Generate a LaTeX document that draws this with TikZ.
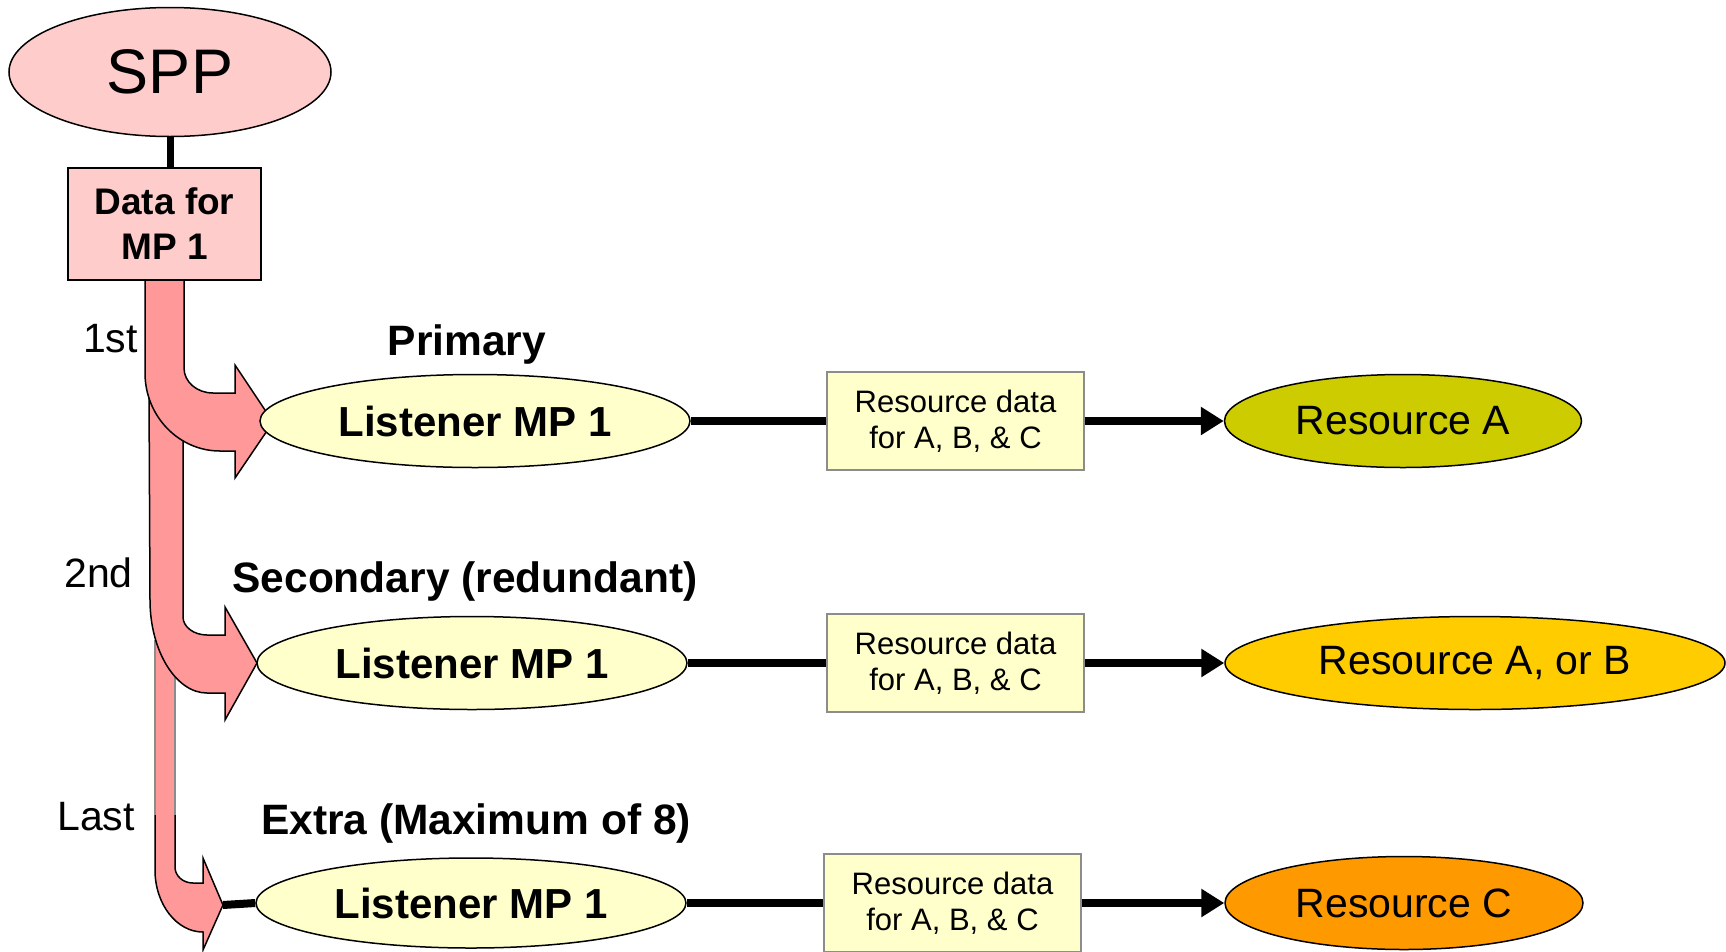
\documentclass[tikz,border=0pt]{standalone}
\usepackage{fontspec}
\setmainfont{Liberation Sans}
\usetikzlibrary{shapes.geometric,arrows.meta}
\definecolor{sppfill}{HTML}{FFCCCC}
\definecolor{arrowfill}{HTML}{FF9999}
\definecolor{lightyellow}{HTML}{FFFFCC}
\definecolor{resA}{HTML}{CCCC00}
\definecolor{resB}{HTML}{FFCC00}
\definecolor{resC}{HTML}{FF9900}
\definecolor{boxgray}{HTML}{8C8C8C}
\begin{document}
\begin{tikzpicture}[x=1pt,y=-1pt,
  oval/.style={ellipse, draw=black, line width=1.5pt, inner sep=0pt, minimum height=93pt},
  listener/.style={oval, fill=lightyellow, minimum width=430pt, font=\fontsize{42}{48}\selectfont\bfseries},
  resnode/.style={oval, font=\fontsize{41}{48}\selectfont},
  databox/.style={rectangle, draw=boxgray, line width=1.8pt, fill=lightyellow, minimum width=257pt, minimum height=98pt, inner sep=0pt, align=center, font=\fontsize{31}{36}\selectfont},
  conn/.style={line width=8pt},
  arrowconn/.style={line width=8pt, -{Triangle[length=23pt,width=27pt]}},
  bentarrow/.style={fill=arrowfill, draw=black, line width=1.5pt, line join=miter},
  rowlabel/.style={anchor=base, inner sep=0pt, font=\fontsize{42.5}{48}\selectfont\bfseries},
  ordlabel/.style={anchor=base east, inner sep=0pt, font=\fontsize{41}{48}\selectfont}
]
\useasboundingbox (0,0) rectangle (1726,951);

% bent arrows (drawn from the last to the first)
\fill[arrowfill] (155,640) -- (175,640) -- (175,867) .. controls (175,876) and (183,883) .. (193,883) -- (203,883) -- (203,858) -- (223,905) -- (203,950) -- (203,932) .. controls (176.5,932) and (155,904) .. (155,870) -- cycle;
\draw[black, line width=1.5pt, line join=miter] (175,815) -- (175,867) .. controls (175,876) and (183,883) .. (193,883) -- (203,883) -- (203,858) -- (223,905) -- (203,950) -- (203,932) .. controls (176.5,932) and (155,904) .. (155,870) -- (155,815);
\draw[boxgray, line width=1.8pt] (155,640) -- (155,815) (175,640) -- (175,815);
\coordinate (tip3) at (223,905);

\draw[bentarrow] (149,390) -- (183,390) -- (183,617) .. controls (183,627) and (194,635) .. (207,635) -- (225,635) -- (225,607) -- (257,663) -- (225,720) -- (225,693) -- (207,693) .. controls (176,693) and (150,651) .. (150,600) -- cycle;

\draw[bentarrow] (145,280) -- (184,280) -- (184,368) .. controls (184,382) and (197,393) .. (213,393) -- (235,393) -- (235,365) -- (273,422) -- (235,478) -- (235,451) -- (220,451) .. controls (178.6,451) and (145,416) .. (145,373) -- cycle;

% SPP and its data
\node[oval, fill=sppfill, minimum width=322pt, minimum height=129pt, font=\fontsize{63}{70}\selectfont] (spp) at (170,72) {SPP};
\node[rectangle, draw=black, line width=1.5pt, fill=sppfill, minimum width=193pt, minimum height=112pt, inner sep=0pt, align=center, font=\fontsize{37}{45}\selectfont\bfseries] (data) at (164.5,224) {Data for\\MP 1};
\draw[line width=7pt] (spp.south) -- (spp.south |- data.north);

% ordinal labels
\node[ordlabel] (l1st) at (138,352) {1st};
\node[ordlabel] (l2nd) at (133,587) {2nd};
\node[ordlabel] (llast) at (135,830) {Last};

% row labels
\node[rowlabel] (prim) at (467,355) {Primary};
\node[rowlabel] (sec) at (465,592) {Secondary (redundant)};
\node[rowlabel] (extra) at (476,834) {Extra (Maximum of 8)};

% rows
\node[listener] (lis1) at (475,421) {Listener MP 1};
\node[listener] (lis2) at (472,663) {Listener MP 1};
\node[listener, minimum height=90pt] (lis3) at (471,903) {Listener MP 1};

\node[databox] (rd1) at (955.5,421) {Resource data\\for A, B, \& C};
\node[databox] (rd2) at (955.5,663) {Resource data\\for A, B, \& C};
\node[databox] (rd3) at (952.5,903) {Resource data\\for A, B, \& C};

\node[resnode, fill=resA, minimum width=357pt] (ra) at (1403,421) {Resource A};
\node[resnode, fill=resB, minimum width=500pt] (rb) at (1475,663) {Resource A, or B};
\node[resnode, fill=resC, minimum width=358pt] (rc) at (1404,903) {Resource C};

% connectors
\draw[conn] (lis1.east) -- (rd1.west);
\draw[conn] (lis2.east) -- (rd2.west);
\draw[conn] (lis3.east) -- (rd3.west);
\draw[arrowconn] (rd1.east) -- (ra.west);
\draw[arrowconn] (rd2.east) -- (rb.west);
\draw[arrowconn] (rd3.east) -- (rc.west);
\draw[conn] (tip3) -- (lis3.west);
\end{tikzpicture}
\end{document}
